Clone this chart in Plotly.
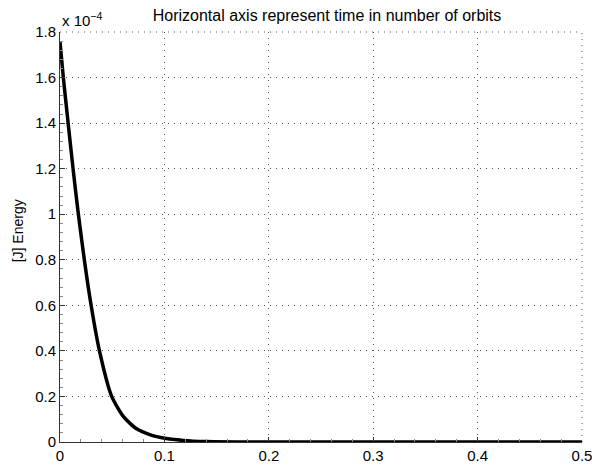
import plotly.graph_objects as go

# Data (time in orbits, energy in J)
time_orbits = [0.0, 0.0032, 0.0078, 0.0125, 0.0176, 0.0233, 0.0298, 0.0378, 0.0495,
               0.061, 0.073, 0.088, 0.102, 0.118, 0.14, 0.17, 0.2, 0.3, 0.4, 0.5]
energy_J = [1.755e-4, 1.6e-4, 1.4e-4, 1.2e-4, 1.0e-4, 0.8e-4, 0.6e-4, 0.4e-4, 0.2e-4,
            0.11e-4, 0.059e-4, 0.029e-4, 0.015e-4, 0.007e-4, 0.002e-4, 0.0005e-4,
            0.0001e-4, 0.0, 0.0, 0.0]

scale = 1e-4
x_ticks = [0, 0.1, 0.2, 0.3, 0.4, 0.5]
x_ticklabels = ["0", "0.1", "0.2", "0.3", "0.4", "0.5"]
y_ticks = [0, 0.2, 0.4, 0.6, 0.8, 1.0, 1.2, 1.4, 1.6, 1.8]
y_ticklabels = ["0", "0.2", "0.4", "0.6", "0.8", "1", "1.2", "1.4", "1.6", "1.8"]

font = "Liberation Sans, Arial, Helvetica, sans-serif"
grid_dash = "1px,5px"
grid_color = "#555"

fig = go.Figure()
fig.add_trace(go.Scatter(
    x=time_orbits,
    y=[e / scale for e in energy_J],
    mode="lines",
    line=dict(color="black", width=3.5, shape="spline", smoothing=0.6),
    showlegend=False,
))

axis_common = dict(
    showline=True, linecolor="#333", linewidth=1,
    ticks="inside", ticklen=5, tickcolor="#333",
    showgrid=True, gridcolor=grid_color, gridwidth=1, griddash=grid_dash,
    zeroline=False, mirror=False, automargin=False,
    ticklabeloverflow="allow",
    tickfont=dict(family=font, size=15, color="black"),
)

fig.update_xaxes(range=[0, 0.5], tickvals=x_ticks, ticktext=x_ticklabels,
                 minor=dict(ticks="inside", ticklen=3, tickcolor="#888", dtick=0.02, showgrid=False),
                 **axis_common)
fig.update_yaxes(range=[0, 1.8], tickvals=y_ticks, ticktext=y_ticklabels,
                 minor=dict(ticks="inside", ticklen=3, tickcolor="#888", dtick=0.04, showgrid=False),
                 **axis_common)

# dotted grid lines on the range edges (top and right), as in the reference
fig.add_shape(type="line", xref="paper", yref="paper", x0=0, x1=1, y0=1, y1=1,
              line=dict(color=grid_color, width=1, dash=grid_dash), layer="below")
fig.add_shape(type="line", xref="paper", yref="paper", x0=1, x1=1, y0=0, y1=1,
              line=dict(color=grid_color, width=1, dash=grid_dash), layer="below")

fig.update_layout(
    width=592, height=466,
    margin=dict(l=60, r=10, t=32, b=24),
    paper_bgcolor="white", plot_bgcolor="white",
    title=dict(text="Horizontal axis represent time in number of orbits",
               x=327 / 592, xanchor="center", y=1 - 15 / 466, yanchor="middle",
               font=dict(family=font, size=16, color="black")),
    annotations=[
        dict(text="x 10<sup>−4</sup>", xref="paper", yref="paper",
             x=0, y=1, xanchor="left", yanchor="bottom", yshift=1,
             showarrow=False, font=dict(family=font, size=15, color="black")),
        dict(text="[J] Energy", xref="paper", yref="paper",
             x=-42 / 522, y=(441.7 - 231) / 410, xanchor="center", yanchor="middle",
             textangle=-90, showarrow=False,
             font=dict(family=font, size=14, color="black")),
    ],
)

fig.write_html("out.html")
